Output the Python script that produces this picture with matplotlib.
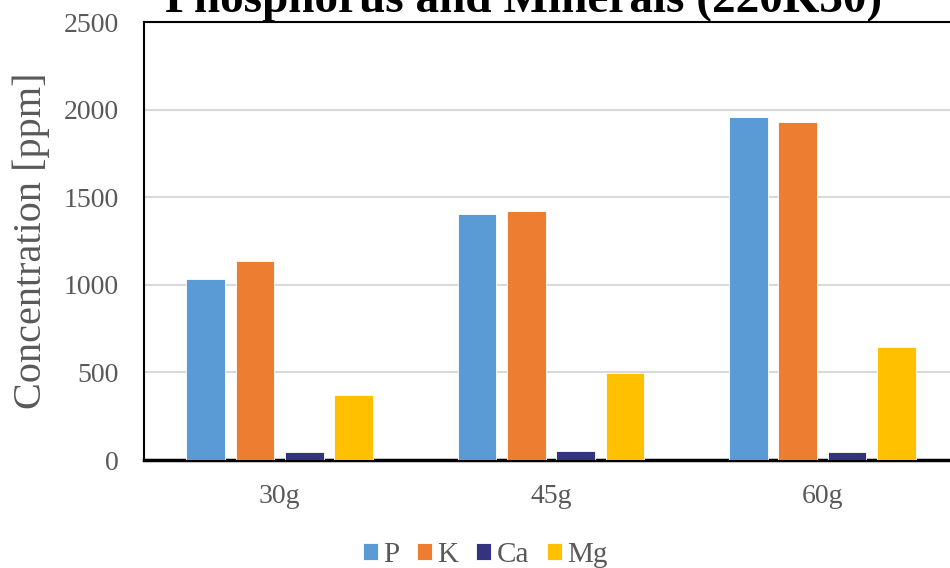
import numpy as np
import matplotlib.pyplot as plt

# data
groups = ["30g", "45g", "60g"]
series = ["P", "K", "Ca", "Mg"]
P = [1032, 1403, 1955]
K = [1135, 1420, 1928]
Ca = [43, 51, 47]
Mg = [372, 497, 645]
colors = ["#5b9bd5", "#ed7d31", "#333380", "#ffc000"]

plt.rcParams["font.family"] = ["Liberation Serif", "DejaVu Serif"]

fig = plt.figure(figsize=(9.5, 5.68), dpi=100)
ax = fig.add_axes([144/950, 108/568, 814/950, 438/568])

x = np.arange(len(groups))
width = 0.142
pitch = 0.1816
for i, (name, vals) in enumerate(zip(series, [P, K, Ca, Mg])):
    ax.bar(x + (i - 1.5) * pitch, vals, width, color=colors[i], label=name,
           edgecolor="white", linewidth=0.6, zorder=3)

ax.set_xlim(-0.5, len(groups) - 0.5)
ax.set_ylim(0, 2500)
ax.set_yticks(np.arange(0, 2501, 500))
ax.set_xticks(x)
ax.set_xticklabels(groups)
ax.grid(axis="y", color="#d9d9d9", linewidth=1.5, zorder=0)
ax.tick_params(axis="both", length=0, labelsize=20, colors="#595959")
ax.tick_params(axis="x", pad=17)
ax.tick_params(axis="y", pad=18)
for s in ["left", "top", "right"]:
    ax.spines[s].set_color("black")
    ax.spines[s].set_linewidth(1.5)
ax.spines["bottom"].set_linewidth(2.5)
ax.set_ylabel("Concentration [ppm]", fontsize=29, color="#595959", labelpad=10)

fig.text(524/950, 1 - 12/568, "Phosphorus and Minerals (220K30)", ha="center",
         va="baseline", fontsize=34, fontweight="bold")

fig.legend(loc="center", bbox_to_anchor=(485/950, 1 - 555/568), ncol=4,
           frameon=False, fontsize=21, handlelength=0.52, handleheight=0.52,
           handletextpad=0.17, columnspacing=0.62, labelcolor="#595959",
           borderpad=0.2)

fig.savefig("out.png", dpi=100)
